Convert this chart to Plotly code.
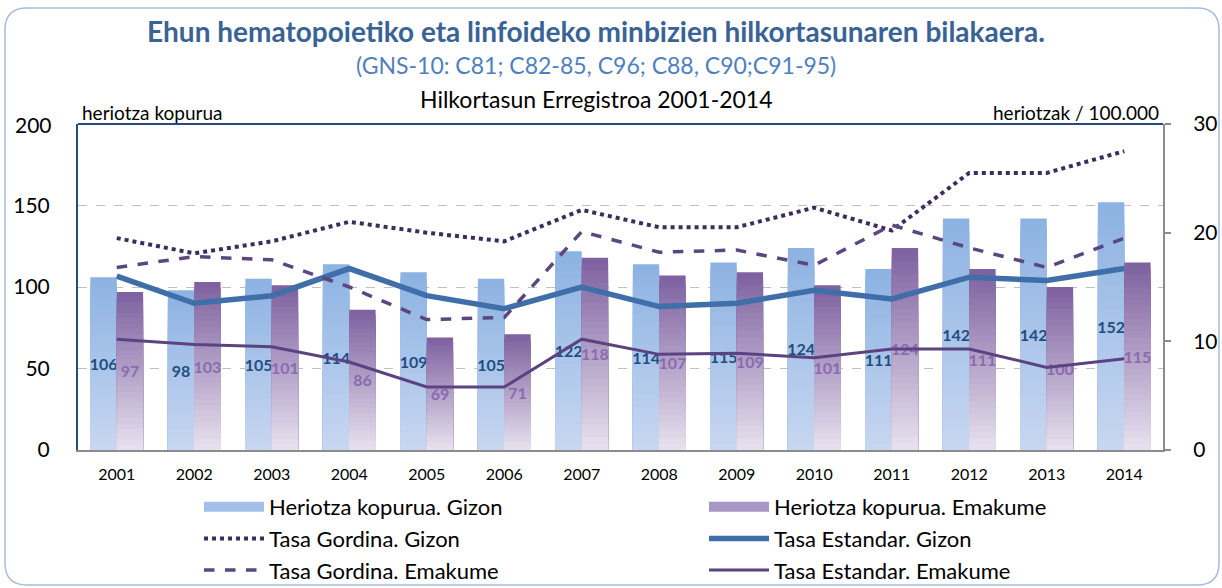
import plotly.graph_objects as go

years = ["2001", "2002", "2003", "2004", "2005", "2006", "2007",
         "2008", "2009", "2010", "2011", "2012", "2013", "2014"]
deaths_men = [106, 98, 105, 114, 109, 105, 122, 114, 115, 124, 111, 142, 142, 152]
deaths_women = [97, 103, 101, 86, 69, 71, 118, 107, 109, 101, 124, 111, 100, 115]
crude_men = [19.5, 18.1, 19.2, 21.0, 20.0, 19.2, 22.1, 20.5, 20.5, 22.3, 20.2, 25.5, 25.5, 27.5]
crude_women = [16.8, 17.8, 17.5, 15.0, 12.0, 12.2, 20.1, 18.2, 18.4, 17.0, 20.7, 18.6, 16.8, 19.5]
std_men = [16.0, 13.5, 14.2, 16.7, 14.2, 13.0, 15.0, 13.2, 13.5, 14.7, 13.9, 15.9, 15.6, 16.7]
std_women = [10.2, 9.7, 9.5, 8.1, 5.8, 5.8, 10.2, 8.8, 8.9, 8.5, 9.3, 9.3, 7.6, 8.4]

W, H = 1222, 588
ML, MR, MT, MB = 78, 59, 124, 138
PW, PH = W - ML - MR, H - MT - MB


def px_x(px):
    return (px - ML) / PW


def px_y(py):
    return (H - MB - py) / PH


def hex2rgb(h):
    h = h.lstrip("#")
    return [int(h[i:i + 2], 16) for i in (0, 2, 4)]


def lerp(c0, c1, t):
    a, b = hex2rgb(c0), hex2rgb(c1)
    return "rgb(%d,%d,%d)" % tuple(round(a[i] + (b[i] - a[i]) * t) for i in range(3))


FONT = "Lato"
N = 30
fig = go.Figure()

series = [
    ("Heriotza kopurua. Gizon", deaths_men, "g", "#C8D7F1", "#8CB2E2", "#1F4E82", "#A3C0E8", 1),
    ("Heriotza kopurua. Emakume", deaths_women, "e", "#E8E2EF", "#7D609F", "#8A6BB0", "#A896C4", 2),
]
for name, vals, grp, c_bot, c_top, lab_col, leg_col, rk in series:
    # gradient: overlapping bars from zero, tallest (top colour) first, shorter ones on top
    for i in range(N - 1, -1, -1):
        t = (i + 0.5) / N
        fig.add_trace(go.Bar(
            x=years, y=[v * (i + 1) / N for v in vals],
            offsetgroup=grp, marker=dict(color=lerp(c_bot, c_top, t), line=dict(width=0)),
            name=name, legendgroup=grp, showlegend=False, hoverinfo="skip",
        ))
    # value labels (transparent full-height bar carrying the text)
    fig.add_trace(go.Bar(
        x=years, y=vals, offsetgroup=grp, marker=dict(color="rgba(0,0,0,0)", line=dict(width=0)),
        text=[str(v) for v in vals], textposition="inside", insidetextanchor="middle",
        constraintext="none", textangle=0,
        textfont=dict(family=FONT, size=16, color=lab_col, weight="bold"),
        showlegend=False, name=name, legendgroup=grp,
        hovertemplate="%{x}: %{y}<extra>" + name + "</extra>",
    ))
    # legend swatch (wide band like the original legend)
    fig.add_trace(go.Scatter(
        x=years, y=[None] * len(years), mode="lines", name=name, legendgroup=grp,
        line=dict(color=leg_col, width=14), legendrank=rk, hoverinfo="skip",
    ))

lines = [
    ("Tasa Gordina. Gizon", crude_men, dict(color="#3E2C5E", width=4, dash="dot"), 3),
    ("Tasa Estandar. Gizon", std_men, dict(color="#3F6EA8", width=5.5), 4),
    ("Tasa Gordina. Emakume", crude_women, dict(color="#5B4680", width=3.5, dash="dash"), 5),
    ("Tasa Estandar. Emakume", std_women, dict(color="#5A4380", width=3), 6),
]
for name, vals, ln, rk in lines:
    fig.add_trace(go.Scatter(x=years, y=vals, yaxis="y2", mode="lines", line=ln,
                             name=name, legendrank=rk))

fig.update_layout(
    width=W, height=H,
    margin=dict(l=ML, r=MR, t=MT, b=MB, autoexpand=False),
    paper_bgcolor="white", plot_bgcolor="white",
    font=dict(family=FONT, color="black"),
    barmode="group", bargap=0.32, bargroupgap=0,
    showlegend=True,
    legend=dict(orientation="h", x=px_x(199), xanchor="left", y=px_y(486), yanchor="top",
                font=dict(family=FONT, size=22, color="black"), entrywidth=430,
                traceorder="normal", bgcolor="rgba(0,0,0,0)", itemwidth=60),
    xaxis=dict(type="category", showgrid=False, showline=True, linecolor="#8C8C8C", linewidth=2,
               ticks="", tickfont=dict(family=FONT, size=16, color="black"), zeroline=False,
               automargin=False, ticklabelstandoff=9),
    yaxis=dict(range=[0, 200], tickvals=[0, 50, 100, 150], showgrid=True,
               gridcolor="#C0C0C0", griddash="dash", gridwidth=1.2,
               showline=True, linecolor="#2A4A7E", linewidth=2, zeroline=False,
               tickfont=dict(family=FONT, size=21, color="black"), ticks="", ticklabelstandoff=22,
               automargin=False),
    yaxis2=dict(range=[0, 30], tickvals=[0, 10, 20, 30], overlaying="y", side="right",
                showgrid=False, showline=True, linecolor="#8C8C8C", linewidth=2, zeroline=False,
                ticks="outside", ticklen=6, tickcolor="#8C8C8C", tickwidth=2,
                tickfont=dict(family=FONT, size=21, color="black"), ticklabelstandoff=18,
                automargin=False),
)

cx = px_x(596)
fig.add_annotation(text="<b>Ehun hematopoietiko eta linfoideko minbizien hilkortasunaren bilakaera.</b>",
                   x=cx, y=px_y(31), xref="paper", yref="paper", showarrow=False, yanchor="middle",
                   font=dict(family=FONT, size=28, color="#3A6395"))
fig.add_annotation(text="(GNS-10: C81; C82-85, C96; C88, C90;C91-95)",
                   x=cx, y=px_y(65), xref="paper", yref="paper", showarrow=False, yanchor="middle",
                   font=dict(family=FONT, size=23, color="#4F7FBF"))
fig.add_annotation(text="Hilkortasun Erregistroa 2001-2014",
                   x=cx, y=px_y(99), xref="paper", yref="paper", showarrow=False, yanchor="middle",
                   font=dict(family=FONT, size=23, color="black"))
fig.add_annotation(text="heriotza kopurua", x=px_x(80), y=px_y(112), xref="paper", yref="paper",
                   xanchor="left", yanchor="middle", showarrow=False,
                   font=dict(family=FONT, size=19, color="black"))
fig.add_annotation(text="heriotzak / 100.000", x=px_x(1161), y=px_y(112), xref="paper", yref="paper",
                   xanchor="right", yanchor="middle", showarrow=False,
                   font=dict(family=FONT, size=19, color="black"))
# left-axis label at the top corner (the 200 tick)
fig.add_annotation(text="200", x=0, y=1, xref="paper", yref="y domain", xanchor="right",
                   yanchor="middle", xshift=-24, showarrow=False,
                   font=dict(family=FONT, size=21, color="black"))

# top border of plot area
fig.add_shape(type="line", xref="paper", yref="paper", x0=0, x1=1, y0=1, y1=1,
              line=dict(color="#2A4A7E", width=2))

# rounded outer frame
x0, x1, y0, y1, r = 5, 1219, 8, 585, 22


def P(px, py):
    return "%f,%f" % (px_x(px), px_y(py))


path = ("M " + P(x0 + r, y0) + " L " + P(x1 - r, y0) + " Q " + P(x1, y0) + " " + P(x1, y0 + r) +
        " L " + P(x1, y1 - r) + " Q " + P(x1, y1) + " " + P(x1 - r, y1) +
        " L " + P(x0 + r, y1) + " Q " + P(x0, y1) + " " + P(x0, y1 - r) +
        " L " + P(x0, y0 + r) + " Q " + P(x0, y0) + " " + P(x0 + r, y0) + " Z")
fig.add_shape(type="path", path=path, xref="paper", yref="paper",
              line=dict(color="#A9BCD9", width=1.5), layer="below")

fig.write_html("out.html", config={"displayModeBar": False},
               post_script="document.body.style.margin='0';")
